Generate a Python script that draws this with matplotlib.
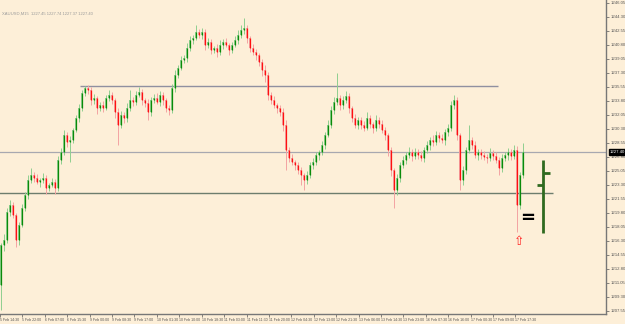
import numpy as np
import matplotlib
matplotlib.use("Agg")
import matplotlib.pyplot as plt

# ---- data (prices) ----
first_open = 1210.78
closes = [
    1215.78, 1216.40, 1219.90, 1220.78, 1219.53, 1216.40, 1218.28, 1220.40, 1222.03, 1223.90,
    1224.53, 1224.15, 1223.65, 1223.90, 1224.15, 1222.90, 1223.28, 1223.65, 1222.90, 1226.40,
    1227.40, 1229.53, 1228.65, 1228.90, 1230.15, 1231.65, 1232.90, 1234.78, 1235.40, 1235.15,
    1233.90, 1234.15, 1232.90, 1233.28, 1232.90, 1234.15, 1234.53, 1233.90, 1232.40, 1230.78,
    1232.03, 1231.65, 1232.90, 1233.90, 1233.65, 1234.53, 1234.90, 1233.90, 1233.53, 1232.40,
    1233.90, 1234.15, 1233.65, 1234.53, 1233.90, 1232.90, 1232.65, 1235.40, 1237.03, 1237.90,
    1238.90, 1239.15, 1240.40, 1241.40, 1241.65, 1242.40, 1242.03, 1242.40, 1240.78, 1241.15,
    1240.15, 1240.40, 1239.90, 1240.78, 1241.15, 1240.78, 1240.15, 1240.78, 1241.40, 1242.03,
    1242.65, 1242.90, 1241.65, 1240.40, 1239.90, 1239.53, 1238.65, 1237.65, 1237.03, 1234.53,
    1233.90, 1233.28, 1232.90, 1232.40, 1230.78, 1227.65, 1226.65, 1226.15, 1225.78, 1225.15,
    1224.53, 1223.90, 1224.53, 1225.78, 1226.15, 1227.03, 1227.40, 1228.28, 1229.53, 1230.78,
    1232.65, 1233.65, 1234.15, 1233.28, 1233.90, 1234.40, 1232.90, 1231.65, 1230.78, 1231.40,
    1230.78, 1230.40, 1231.65, 1230.90, 1230.40, 1231.40, 1230.90, 1230.15, 1229.53, 1227.65,
    1225.15, 1222.65, 1224.15, 1225.78, 1226.40, 1227.03, 1227.40, 1226.90, 1227.40, 1227.03,
    1226.65, 1227.65, 1228.28, 1228.90, 1228.65, 1229.53, 1229.15, 1228.90, 1229.90, 1230.40,
    1233.28, 1233.90, 1229.53, 1223.90, 1225.15, 1227.65, 1228.90, 1228.28, 1227.03, 1227.40,
    1227.03, 1226.78, 1226.65, 1227.28, 1226.90, 1226.40, 1225.40, 1226.65, 1227.03, 1227.40,
    1226.90, 1227.65, 1220.78, 1224.53, 1227.40,
]
upper_wicks = [
    0.3, 0.8, 0.5, 0.6, 0.4, 0.3, 0.4, 0.5, 0.4, 0.6,
    0.9, 0.4, 0.5, 0.3, 0.6, 0.4, 0.3, 0.5, 0.4, 0.5,
    0.5, 0.6, 0.4, 0.5, 0.3, 0.4, 0.5, 0.4, 0.3, 0.4,
    0.4, 0.5, 0.3, 0.4, 0.5, 0.4, 0.6, 0.4, 0.3, 0.5,
    0.5, 0.4, 0.6, 1.2, 0.4, 0.5, 0.6, 0.4, 0.3, 0.5,
    0.4, 0.5, 0.6, 0.5, 0.4, 0.3, 0.4, 0.5, 0.6, 0.4,
    0.5, 0.4, 0.6, 0.5, 0.4, 0.9, 0.4, 0.5, 0.4, 0.5,
    0.4, 0.3, 0.5, 0.6, 0.4, 0.5, 0.3, 0.4, 0.5, 0.6,
    0.6, 1.3, 0.4, 0.3, 0.5, 0.4, 0.3, 0.4, 0.6, 0.4,
    0.4, 0.5, 0.3, 0.4, 0.5, 0.6, 0.4, 0.5, 0.3, 0.4,
    0.4, 0.3, 0.5, 0.4, 0.5, 0.4, 0.3, 0.5, 0.4, 0.6,
    0.5, 0.6, 3.1, 0.4, 0.5, 0.6, 0.4, 0.3, 0.5, 0.4,
    0.4, 0.5, 0.8, 0.4, 0.3, 0.6, 0.4, 0.5, 0.4, 0.3,
    0.4, 0.3, 0.5, 0.4, 0.5, 0.4, 0.6, 0.4, 0.5, 0.4,
    0.5, 0.4, 0.5, 0.4, 0.6, 0.5, 0.4, 0.5, 0.4, 0.5,
    0.5, 0.6, 0.4, 0.3, 0.5, 0.4, 1.9, 0.4, 0.5, 0.4,
    0.4, 0.5, 0.4, 0.6, 0.4, 0.5, 0.4, 0.5, 0.4, 0.5,
    0.4, 0.6, 0.5, 0.4, 1.1,
]
lower_wicks = [
    3.1, 0.8, 0.4, 0.5, 0.4, 0.9, 0.6, 0.3, 0.4, 0.5,
    0.4, 0.5, 0.3, 0.6, 0.4, 0.7, 0.4, 0.3, 0.8, 0.4,
    0.5, 0.4, 0.6, 2.5, 0.4, 0.3, 0.5, 0.4, 0.4, 0.5,
    0.6, 0.5, 0.8, 0.4, 0.5, 0.3, 0.4, 0.5, 0.7, 2.5,
    0.4, 0.6, 0.5, 0.4, 0.5, 0.4, 0.3, 0.6, 0.5, 1.0,
    0.5, 0.4, 0.3, 0.5, 0.6, 0.5, 0.6, 0.4, 0.5, 0.4,
    0.3, 0.4, 0.5, 0.4, 0.5, 0.3, 0.4, 0.5, 0.6, 0.4,
    0.5, 0.4, 0.6, 0.4, 0.5, 0.3, 0.6, 0.4, 0.3, 0.5,
    0.4, 0.5, 0.6, 0.5, 0.4, 0.6, 0.5, 0.7, 0.9, 0.6,
    0.5, 0.4, 0.6, 0.5, 0.8, 2.5, 0.5, 0.4, 0.6, 0.5,
    1.2, 1.3, 0.5, 0.4, 0.5, 0.4, 0.6, 0.4, 0.5, 0.3,
    0.4, 0.5, 0.4, 0.6, 0.5, 0.4, 0.6, 0.5, 0.4, 0.5,
    0.5, 0.4, 0.3, 0.5, 0.6, 0.4, 0.5, 0.4, 0.6, 0.7,
    0.8, 2.3, 0.6, 0.5, 0.4, 0.5, 0.4, 0.6, 0.4, 0.5,
    0.4, 0.5, 0.4, 0.6, 0.5, 0.4, 0.5, 0.4, 0.6, 0.5,
    0.4, 0.5, 0.6, 1.3, 0.6, 0.5, 0.4, 0.5, 0.4, 0.6,
    0.5, 0.4, 0.6, 0.4, 0.5, 0.4, 0.9, 0.5, 0.4, 0.6,
    0.5, 0.4, 3.4, 0.5, 0.4,
]
time_labels = [
    "5 Feb 14:30", "5 Feb 22:00", "6 Feb 07:00", "6 Feb 15:30", "9 Feb 00:00", "9 Feb 08:30",
    "9 Feb 17:00", "10 Feb 01:30", "10 Feb 10:00", "10 Feb 18:30", "11 Feb 03:00", "11 Feb 11:30",
    "11 Feb 20:00", "12 Feb 04:30", "12 Feb 13:00", "12 Feb 21:30", "13 Feb 06:00", "13 Feb 14:30",
    "13 Feb 23:00", "16 Feb 07:30", "16 Feb 16:00", "17 Feb 00:30", "17 Feb 09:00", "17 Feb 17:30",
]
resistance_level = 1235.65
support_level = 1222.28
bid_price = 1227.40
info_text = "XAUUSD,M15  1227.45 1227.74 1227.37 1227.40"

# ---- figure ----
BG = "#fdefd8"
LABEL_FONT = ["Liberation Sans", "DejaVu Sans"]
fig = plt.figure(figsize=(6.25, 3.24), dpi=100, facecolor=BG)
ax = fig.add_axes([0.0, 10 / 324, 606 / 625, 314 / 324], facecolor=BG)

closes_a = np.array(closes)
opens_a = np.concatenate([[first_open], closes_a[:-1]])
highs_a = np.maximum(opens_a, closes_a) + np.array(upper_wicks)
lows_a = np.minimum(opens_a, closes_a) - np.array(lower_wicks)
idx = np.arange(len(closes_a))
bull = closes_a >= opens_a

pale = np.where(bull, "#8fcf8f", "#f3a3a3")
bold = np.where(bull, "#0a8a0a", "#ff1010")

ax.vlines(idx, lows_a, highs_a, colors=pale, lw=0.7, zorder=2)
ax.bar(idx, np.abs(closes_a - opens_a) + 0.05, bottom=np.minimum(opens_a, closes_a),
       width=0.85, color=pale, lw=0, zorder=3)
ax.vlines(idx, np.minimum(opens_a, closes_a), np.maximum(opens_a, closes_a),
          colors=bold, lw=0.9, zorder=4)

# horizontal levels
ax.axhline(bid_price, color="#a8a8b0", lw=0.9, zorder=1)
ax.hlines(resistance_level, 26.3, 165.7, color="#9090a0", lw=1.0, zorder=1)
ax.hlines(support_level, -1, 184.0, color="#6d7d6d", lw=1.0, zorder=1)

# annotations on the right
ax.vlines(180.67, 1217.3, 1226.4, color="#2f6a1f", lw=2.0, zorder=5)
ax.hlines(1224.78, 180.67, 183.0, color="#2f6a1f", lw=2.0, zorder=5)
ax.hlines(1223.28, 178.67, 180.67, color="#2f6a1f", lw=2.0, zorder=5)
ax.text(175.4, 1219.15, "=", fontsize=13, fontweight="bold", color="black",
        ha="center", va="center", zorder=6)
ax.text(172.7, 1216.2, "\u21e7", fontsize=9, color="#ff2020",
        ha="center", va="center", zorder=6)

# info text top-left
ax.text(0.5, 1244.75, info_text, fontsize=3.0, color="#9a9a9a", ha="left", va="center",
        family=LABEL_FONT)

# axes limits
ax.set_xlim(-1 / 3, 201.67)
ax.set_ylim(1207.15, 1246.4)

for s in ["left", "top"]:
    ax.spines[s].set_visible(False)
for s in ["right", "bottom"]:
    ax.spines[s].set_color("#777777")
    ax.spines[s].set_linewidth(1.0)

yt = np.round(1246.05 - 1.75 * np.arange(23), 2)
ax.yaxis.tick_right()
ax.set_yticks(yt)
ax.set_yticklabels([f"{v:.2f}" for v in yt], family=LABEL_FONT)
ax.tick_params(axis="y", direction="out", length=2, width=0.5, colors="#555555",
               labelsize=3.1, pad=1.0)

xt = np.arange(len(time_labels)) * 7.47 - 0.33
ax.set_xticks(xt)
ax.set_xticklabels(time_labels, ha="left", family=LABEL_FONT)
ax.tick_params(axis="x", direction="out", length=2, width=0.5, colors="#555555",
               labelsize=2.6, pad=0.8)
for lab in ax.get_xticklabels():
    lab.set_horizontalalignment("left")

# current price marker on the axis
ax.text(1.006, (bid_price - 1207.15) / (1246.4 - 1207.15), f"{bid_price:.2f}",
        transform=ax.transAxes, fontsize=3.1, color="white", ha="left", va="center",
        family=LABEL_FONT,
        bbox=dict(boxstyle="square,pad=0.15", fc="black", ec="black"), zorder=10, clip_on=False)

fig.savefig("out.png", dpi=100, facecolor=BG)
